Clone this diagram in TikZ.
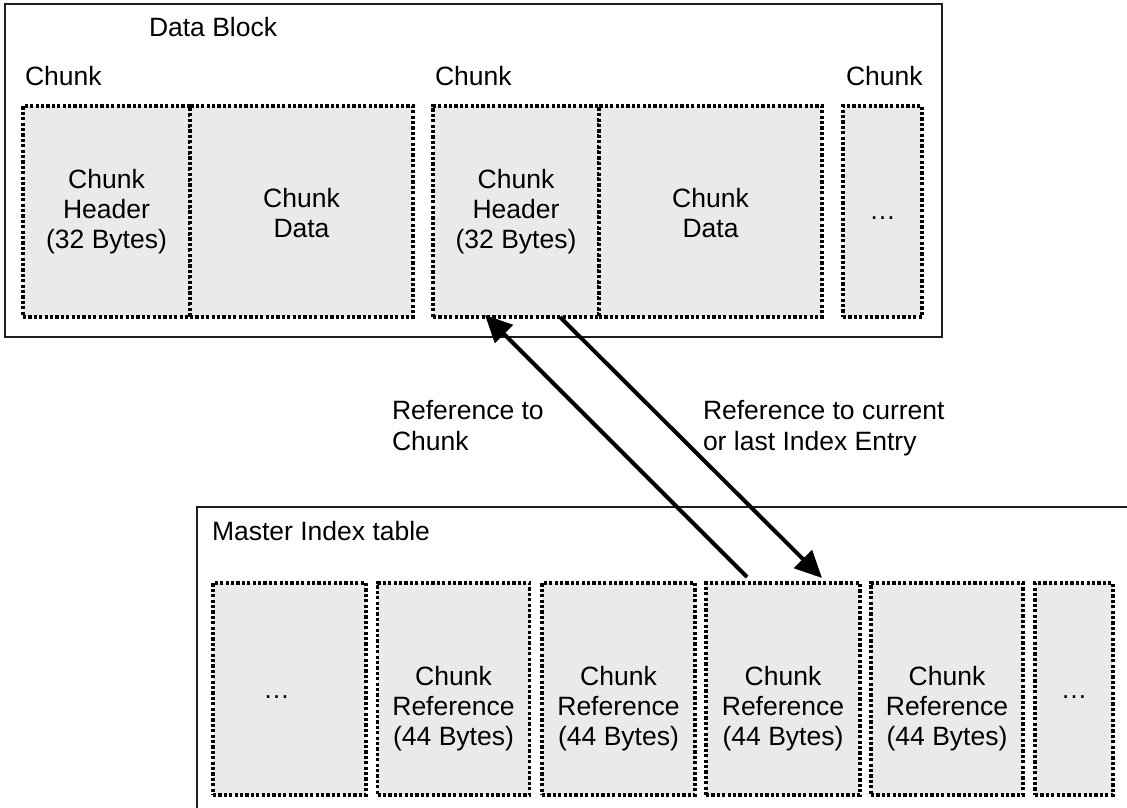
\documentclass[tikz,border=0pt]{standalone}
\usepackage{fontspec}
\setmainfont{Liberation Sans}
\usetikzlibrary{arrows.meta,calc}
\definecolor{cellgray}{RGB}{234,234,234}
\definecolor{framegray}{RGB}{30,30,30}
\newcommand\lbfont{\fontsize{26.5}{30}\selectfont}
\newcommand\lbfontwide{\fontsize{26.5}{31}\selectfont}
\tikzset{
  frame/.style={draw=framegray, line width=1.6pt, rectangle, inner sep=0pt,
    outer sep=0pt, anchor=north west},
  cell/.style={draw=black, line width=3.4pt, dash pattern=on 3.2pt off 2.2pt,
    fill=cellgray, rectangle, inner sep=0pt, outer sep=0pt, anchor=north west},
  lbl/.style={inner sep=0pt, outer sep=0pt, font=\lbfont, text=black},
  reflink/.style={line width=4pt, draw=black,
    -{Triangle[length=27pt,width=25pt]}},
}
\begin{document}
\begin{tikzpicture}[x=1pt, y=-1pt]
\clip (0,0) rectangle (1127,807);
\fill[white] (0,0) rectangle (1127,807);

% ---------- data block ----------
\node[frame, minimum width=937pt, minimum height=333pt] (datablock) at (5,4) {};
\node[lbl, anchor=base west] (dbtitle) at (149,36) {Data Block};
\node[lbl, anchor=base west] (c1lbl) at (25,85) {Chunk};
\node[lbl, anchor=base west] (c2lbl) at (435,85) {Chunk};
\node[lbl, anchor=base west] (c3lbl) at (846,85) {Chunk};

\node[cell, minimum width=167pt, minimum height=211pt] (h1) at (23,106) {};
\node[cell, minimum width=223pt, minimum height=211pt] (d1) at (190,106) {};
\node[cell, minimum width=166pt, minimum height=211pt] (h2) at (433,106) {};
\node[cell, minimum width=223pt, minimum height=211pt] (d2) at (599,106) {};
\node[cell, minimum width=79pt, minimum height=211pt] (e1) at (843,106) {};

\node[lbl, align=center] (h1t) at (106.5,211.5) {Chunk\\Header\\(32 Bytes)};
\node[lbl, align=center] (d1t) at (301.5,213.5) {Chunk\\Data};
\node[lbl, align=center] (h2t) at (516,211.5) {Chunk\\Header\\(32 Bytes)};
\node[lbl, align=center] (d2t) at (710.5,213.5) {Chunk\\Data};
\node[lbl, anchor=base] (e1t) at (882.5,219.5) {…};

% ---------- master index table ----------
\node[frame, line width=1.3pt, minimum width=1000pt, minimum height=400pt] (master) at (197,507) {};
\node[lbl, anchor=base west] (mtitle) at (212,540) {Master Index table};

\node[cell, minimum width=153pt, minimum height=212pt] (ix0) at (213,583) {};
\node[cell, minimum width=152pt, minimum height=212pt] (ix1) at (377.5,583) {};
\node[cell, minimum width=153pt, minimum height=212pt] (ix2) at (542,583) {};
\node[cell, minimum width=154pt, minimum height=212pt] (ix3) at (706,583) {};
\node[cell, minimum width=152pt, minimum height=212pt] (ix4) at (871,583) {};
\node[cell, minimum width=78pt, minimum height=212pt] (ix5) at (1035,583) {};

\node[lbl, anchor=base] (ix0t) at (276.5,698.5) {…};
\node[lbl, align=center] (ix1t) at (453.5,708.3) {Chunk\\Reference\\(44 Bytes)};
\node[lbl, align=center] (ix2t) at (618.5,708.3) {Chunk\\Reference\\(44 Bytes)};
\node[lbl, align=center] (ix3t) at (783,708.3) {Chunk\\Reference\\(44 Bytes)};
\node[lbl, align=center] (ix4t) at (947,708.3) {Chunk\\Reference\\(44 Bytes)};
\node[lbl, anchor=base] (ix5t) at (1074,698.5) {…};

% ---------- references between the two tables ----------
\coordinate (toChunkFrom) at ($(ix3.north west)+(41,-6)$);
\coordinate (toChunkTo)   at ($(h2.south west)+(52,-2)$);
\coordinate (toIndexFrom) at ($(h2.south west)+(127,0)$);
\coordinate (toIndexTo)   at ($(ix3.north west)+(116,-5)$);
\draw[reflink] (toChunkFrom) -- (toChunkTo);
\draw[reflink] (toIndexFrom) -- (toIndexTo);

\node[lbl, font=\lbfontwide, align=left, anchor=north west] (reflbl1) at (392,400)
  {Reference to\\Chunk};
\node[lbl, font=\lbfontwide, align=left, anchor=north west] (reflbl2) at (703,400)
  {Reference to current\\or last Index Entry};
\end{tikzpicture}
\end{document}
